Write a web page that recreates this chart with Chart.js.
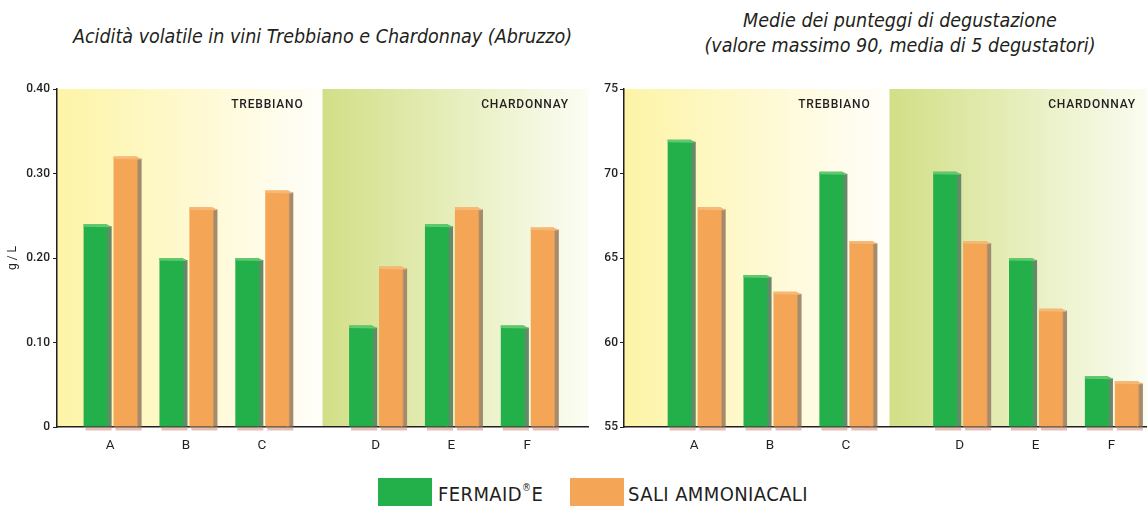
<!DOCTYPE html>
<html>
<head>
<meta charset="utf-8">
<script src="https://cdn.jsdelivr.net/npm/chart.js@4.4.1/dist/chart.umd.min.js"></script>
<style>
body{margin:0;width:1147px;height:506px;overflow:hidden;background:#fff;position:relative;font-family:"DejaVu Sans Condensed",sans-serif;color:#231f20}
canvas{position:absolute;top:0}
#c1{left:0}
#c2{left:567px}
.title{position:absolute;text-align:center;font-style:italic;font-size:19.5px;line-height:25px}
#t1{left:57px;width:531px;top:24px}
#t2{left:640px;width:520px;top:8px}
.sw{position:absolute;top:478px;width:54px;height:28px}
.lt{position:absolute;top:482px;font-size:20px;line-height:24px;letter-spacing:.4px}
.lt sup{font-size:10px;vertical-align:10px;line-height:0}
</style>
</head>
<body>
<div class="title" id="t1"></div>
<div class="title" id="t2"></div>
<canvas id="c1" width="590" height="470"></canvas>
<canvas id="c2" width="590" height="470"></canvas>
<div id="legend"></div>
<script>
const categories = ["A", "B", "C", "D", "E", "F"];
const groups = ["TREBBIANO", "CHARDONNAY"];
const seriesNames = ["FERMAID®E", "SALI AMMONIACALI"];

const acidFermaid = [0.24, 0.20, 0.20, 0.12, 0.24, 0.12];
const acidSali = [0.32, 0.26, 0.28, 0.19, 0.26, 0.236];
const acidTicks = [0, 0.1, 0.2, 0.3, 0.4];

const scoreFermaid = [72, 64, 70.1, 70.1, 65, 58];
const scoreSali = [68, 63, 66, 66, 62, 57.7];
const scoreTicks = [55, 60, 65, 70, 75];

const titleLeft = ["Acidità volatile in vini Trebbiano e Chardonnay (Abruzzo)"];
const titleRight = ["Medie dei punteggi di degustazione", "(valore massimo 90, media di 5 degustatori)"];
const yTitleLeft = "g / L";

// layout: slot of each category on a 0..14 axis, groups split at 7
const slotPos = [0, 2, 4, 7, 9, 11];
const groupSplit = 7;

const colors = ["#23b04b", "#f4a555"];
const sideColors = ["#658a69", "#a58b6e"];
const capColors = ["#62c86f", "#f6b877"];
const ink = "#231f20";
const axisFont = "Roboto, sans-serif";

document.getElementById("t1").innerHTML = titleLeft.join("<br>");
document.getElementById("t2").innerHTML = titleRight.join("<br>");

const legend = document.getElementById("legend");
const swLeft = [378, 570];
const txtLeft = [438, 628];
seriesNames.forEach((name, i) => {
    legend.innerHTML += `<span class="sw" style="background:${colors[i]};left:${swLeft[i]}px"></span>` +
        `<span class="lt" style="left:${txtLeft[i]}px">${name.replace("®", "<sup>®</sup>")}</span>`;
});

const bands = {
    id: "bands",
    beforeDraw(chart) {
        const {ctx, chartArea: a, scales: {x}} = chart;
        const mid = x.getPixelForValue(groupSplit);
        const parts = [
            [a.left, mid, "#fdf4a6", "#fffefa"],
            [mid, a.right, "#d2df86", "#fcfdf4"]
        ];
        ctx.save();
        parts.forEach((p, i) => {
            const g = ctx.createLinearGradient(p[0], 0, p[1], 0);
            g.addColorStop(0, p[2]);
            g.addColorStop(1, p[3]);
            ctx.fillStyle = g;
            ctx.fillRect(p[0], a.top, p[1] - p[0], a.bottom - a.top);
            ctx.fillStyle = ink;
            ctx.font = "500 12px " + axisFont;
            ctx.letterSpacing = "0.8px";
            ctx.textAlign = "right";
            ctx.textBaseline = "middle";
            ctx.fillText(groups[i], p[1] - 19, a.top + 16);
        });
        ctx.restore();
    }
};

const bevel = {
    id: "bevel",
    afterDatasetsDraw(chart) {
        const ctx = chart.ctx;
        const bottom = chart.chartArea.bottom;
        ctx.save();
        chart.data.datasets.forEach((ds, i) => {
            chart.getDatasetMeta(i).data.forEach(bar => {
                const p = bar.getProps(["x", "y", "base", "width"], true);
                const y = p.y, width = p.width, base = Math.min(p.base, bottom);
                const l = p.x - width / 2, r = p.x + width / 2;
                const g = ctx.createLinearGradient(r, 0, r + 5, 0);
                g.addColorStop(0, colors[i]);
                g.addColorStop(0.35, sideColors[i]);
                g.addColorStop(1, sideColors[i]);
                ctx.fillStyle = g;
                ctx.fillRect(r - 1, y + 2, 6, base - y - 2);
                ctx.fillStyle = capColors[i];
                ctx.beginPath();
                ctx.moveTo(l, y);
                ctx.lineTo(r, y);
                ctx.lineTo(r + 4, y + 2);
                ctx.lineTo(r + 4, y + 3);
                ctx.lineTo(l, y + 2.5);
                ctx.closePath();
                ctx.fill();
                ctx.fillStyle = "rgba(200,110,90,0.45)";
                ctx.fillRect(l + 2, base + 1, width + 3, 3);
            });
        });
        ctx.restore();
    }
};

function buildChart(id, o) {
    return new Chart(document.getElementById(id), {
        type: "bar",
        data: {
            datasets: [o.a, o.b].map((vals, k) => ({
                label: seriesNames[k],
                data: vals.map((v, i) => ({x: slotPos[i] + o.shift, y: v})),
                backgroundColor: colors[k],
                borderWidth: 0,
                base: o.ticks[0]
            }))
        },
        options: {
            responsive: false,
            animation: false,
            categoryPercentage: 0.79,
            barPercentage: 0.77,
            layout: {padding: {top: 89, right: 2, bottom: 0, left: 0}},
            plugins: {legend: {display: false}, tooltip: {enabled: false}},
            scales: {
                x: {
                    type: "linear",
                    offset: false,
                    min: 0,
                    max: 14,
                    afterBuildTicks: s => { s.ticks = slotPos.map(p => ({value: p + o.shift})); },
                    afterFit: s => { s.height = 43; },
                    grid: {display: false},
                    border: {display: true, color: ink, width: 1.5},
                    ticks: {
                        autoSkip: false,
                        maxRotation: 0,
                        padding: 3,
                        color: ink,
                        font: {family: axisFont, size: 13.5},
                        callback: (v, i) => categories[i]
                    }
                },
                y: {
                    min: o.ticks[0],
                    max: o.ticks[o.ticks.length - 1],
                    afterBuildTicks: s => { s.ticks = o.ticks.map(v => ({value: v})); },
                    afterFit: s => { s.width = 57; },
                    grid: {drawOnChartArea: false, drawTicks: true, tickLength: 4, color: ink, lineWidth: 1},
                    border: {display: true, color: ink, width: 1.5},
                    ticks: {
                        padding: o.pad,
                        color: ink,
                        font: {family: axisFont, size: 12, weight: "500"},
                        callback: o.fmt
                    },
                    title: o.yTitle
                        ? {display: true, text: o.yTitle, color: ink, font: {family: axisFont, size: 12}, padding: {top: 6, bottom: 0}}
                        : {display: false}
                }
            }
        },
        plugins: [bands, bevel]
    });
}

buildChart("c1", {
    a: acidFermaid, b: acidSali, ticks: acidTicks, shift: 1.4, pad: 3, yTitle: yTitleLeft,
    fmt: v => v === 0 ? "0" : v.toFixed(2)
});

buildChart("c2", {
    a: scoreFermaid, b: scoreSali, ticks: scoreTicks, shift: 1.85, pad: 2,
    fmt: v => String(v)
});
</script>
</body>
</html>
